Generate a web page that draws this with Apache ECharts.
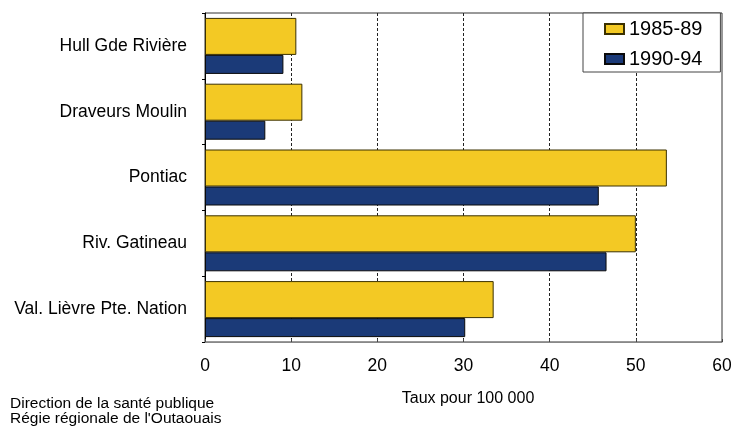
<!DOCTYPE html>
<html>
<head>
<meta charset="utf-8">
<script src="https://cdn.jsdelivr.net/npm/echarts@6/dist/echarts.min.js"></script>
<style>html,body{margin:0;padding:0;background:#fff}#c{width:731px;height:428px}</style>
</head>
<body>
<div id="c"></div>
<script>
var categories = ["Hull Gde Rivière", "Draveurs Moulin", "Pontiac", "Riv. Gatineau", "Val. Lièvre Pte. Nation"];
var series1985 = [10.6, 11.3, 53.6, 50.0, 33.5];
var series1990 = [9.1, 7.0, 45.7, 46.6, 30.2];
var xTicks = [0, 10, 20, 30, 40, 50, 60];
var seriesNames = ["1985-89", "1990-94"];
var axisTitle = "Taux pour 100 000";
var footer = ["Direction de la santé publique", "Régie régionale de l'Outaouais"];

var chart = echarts.init(document.getElementById('c'), null, {renderer: 'canvas'});
var font = 'Liberation Sans, Arial, sans-serif';
chart.setOption({
  animation: false,
  textStyle: {fontFamily: font, color: '#000'},
  grid: {left: 205, right: 9, top: 13, bottom: 86, show: true, borderColor: '#333', borderWidth: 1,
         containLabel: false, outerBoundsMode: 'none'},
  legend: {
    data: seriesNames,
    orient: 'vertical',
    left: 583, top: 13,
    padding: [6, 18, 3, 21],
    itemGap: 10,
    itemWidth: 19, itemHeight: 10,
    borderColor: '#444', borderWidth: 1, backgroundColor: '#fff',
    textStyle: {fontSize: 20, fontFamily: font, color: '#000', lineHeight: 20},
    icon: 'rect'
  },
  xAxis: {
    type: 'value', min: xTicks[0], max: xTicks[xTicks.length - 1], interval: 10,
    axisLine: {show: true, lineStyle: {color: '#888', width: 1}},
    axisTick: {show: true, inside: true, length: 3, lineStyle: {color: '#444'}},
    axisLabel: {fontSize: 17.5, color: '#000', margin: 15, fontFamily: font},
    splitLine: {show: true, showMinLine: false, showMaxLine: false, lineStyle: {color: '#222', type: [3, 2], width: 1}},
    name: axisTitle, nameLocation: 'middle', nameGap: 49,
    nameTextStyle: {fontSize: 16, color: '#000', fontFamily: font, padding: [0, 0, 0, 9]}
  },
  yAxis: {
    type: 'category', data: categories, inverse: true,
    axisLine: {show: true, lineStyle: {color: '#000', width: 1}},
    axisTick: {show: true, length: 3, lineStyle: {color: '#000'}},
    axisLabel: {fontSize: 17.5, color: '#000', margin: 18, fontFamily: font, padding: [4, 0, 0, 0]},
    splitLine: {show: false}
  },
  series: [
    {name: seriesNames[0], type: 'bar', data: series1985, barWidth: 37, barGap: '0%',
     itemStyle: {color: '#F3C924', borderColor: '#3a3000', borderWidth: 1}},
    {name: seriesNames[1], type: 'bar', data: series1990, barWidth: 19, barGap: '0%',
     itemStyle: {color: '#1B3A78', borderColor: '#0a0a0a', borderWidth: 1}}
  ],
  graphic: [
    {type: 'text', left: 10, top: 396, style: {text: footer[0], font: '15.5px ' + font, fill: '#000'}},
    {type: 'text', left: 10, top: 411, style: {text: footer[1], font: '15.5px ' + font, fill: '#000'}}
  ]
});
</script>
</body>
</html>
